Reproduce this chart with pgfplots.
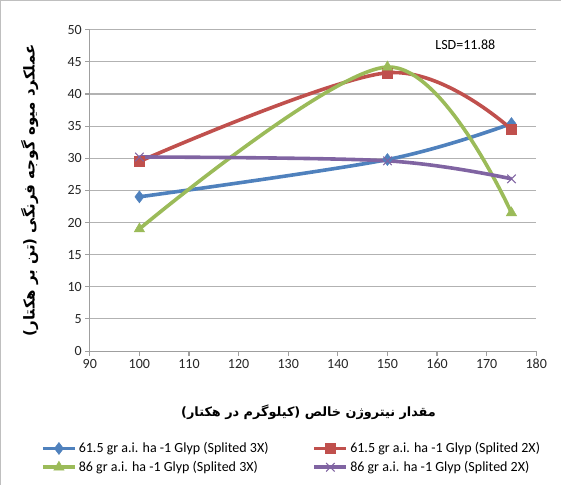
\documentclass[border=0pt]{standalone}
\usepackage{fontspec}
\setmainfont{Carlito}
\newfontfamily\fa[Script=Arabic]{DejaVu Sans}
\TeXXeTstate=1
\usepackage{pgfplots}
\pgfplotsset{compat=1.18}
\definecolor{sblue}{HTML}{4F81BD}
\definecolor{sred}{HTML}{C0504D}
\definecolor{sgreen}{HTML}{9BBB59}
\definecolor{spurple}{HTML}{8064A2}
\begin{document}
\begin{tikzpicture}[x=1pt,y=1pt]
\path[use as bounding box, draw=gray!50] (0.5,0.5) rectangle (560.5,484.5);
\begin{axis}[
  at={(90pt,134pt)}, anchor=south west,
  scale only axis, width=446pt, height=321pt,
  xmin=90, xmax=180, ymin=0, ymax=50,
  xtick={90,100,...,180}, ytick={0,5,...,50},
  ymajorgrids, grid style={gray!60, line width=1.1pt},
  axis x line*=bottom, axis y line*=left,
  axis line style={gray!75, line width=1.1pt},
  tick style={gray!75, line width=1.1pt}, tick align=outside, major tick length=4.5pt,
  ticklabel style={font=\fontsize{14}{16}\selectfont, text=black!85},
  /pgf/number format/assume math mode=true,
  xlabel={\fa\bfseries\fontsize{12.8}{15}\selectfont\beginR مقدار نیتروژن خالص (کیلوگرم در هکتار)\endR},
  xlabel style={at={(axis description cs:0.49,-0.19)}, anchor=center},
  ylabel={\fa\bfseries\fontsize{15}{18}\selectfont\beginR عملکرد میوه گوجه فرنگی (تن بر هکتار)\endR},
  ylabel style={at={(axis description cs:-0.135,0.5)}, anchor=center, rotate=0},
  legend columns=2,
  legend style={draw=none, at={(axis description cs:0.452,-0.278)}, anchor=north,
    font=\fontsize{14}{16}\selectfont, row sep=3pt, inner sep=0pt,
    /tikz/every even column/.append style={column sep=42pt}},
  legend cell align=left,
  legend image code/.code={\draw[mark repeat=2,mark phase=2] plot coordinates {(0pt,0pt)(16pt,0pt)(32pt,0pt)};},
  every axis plot/.append style={line width=3.6pt, smooth, tension=0.55},
]
\addplot[color=sblue, mark=diamond*, mark size=6pt, mark options={solid, line width=0.5pt}]
  coordinates {(100,24.0) (150,29.8) (175,35.4)};
\addlegendentry{61.5 gr a.i. ha -1 Glyp (Splited 3X)}
\addplot[color=sred, mark=square*, mark size=5pt, mark options={solid, line width=0.5pt}]
  coordinates {(100,29.5) (150,43.3) (175,34.5)};
\addlegendentry{61.5 gr a.i. ha -1 Glyp (Splited 2X)}
\addplot[color=sgreen, mark=triangle*, mark size=6pt, mark options={solid, line width=0.5pt}]
  coordinates {(100,19.0) (150,44.2) (175,21.5)};
\addlegendentry{86 gr a.i. ha -1 Glyp (Splited 3X)}
\addplot[color=spurple, mark=x, mark size=6pt, mark options={solid, line width=1.1pt}]
  coordinates {(100,30.2) (150,29.6) (175,26.8)};
\addlegendentry{86 gr a.i. ha -1 Glyp (Splited 2X)}
\node[font=\fontsize{14}{16}\selectfont] at (axis cs:165.7,47.7) {LSD=11.88};
\end{axis}
\end{tikzpicture}
\end{document}
